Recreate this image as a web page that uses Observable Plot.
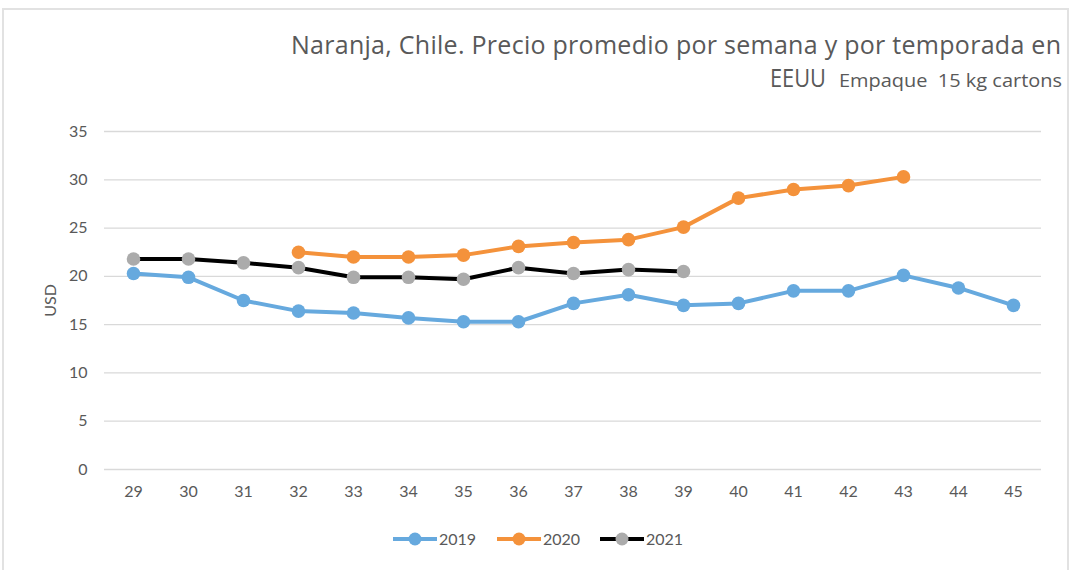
<!DOCTYPE html>
<html>
<head>
<meta charset="utf-8">
<script src="https://cdn.jsdelivr.net/npm/d3@7"></script>
<script src="https://cdn.jsdelivr.net/npm/@observablehq/plot@0.6"></script>
<style>
  body { margin: 0; background: #fff; }
  #wrap { position: relative; width: 1071px; height: 570px; overflow: hidden; background: #fff; }
  #frame { position: absolute; left: 2px; top: 8px; width: 1067px; height: 620px; border: 2px solid #e2e2e2; box-sizing: border-box; }
  #chart, #overlay { position: absolute; left: 0; top: 0; }
</style>
</head>
<body>
<div id="wrap">
  <div id="frame"></div>
  <div id="chart"></div>
  <svg id="overlay" width="1071" height="570"></svg>
</div>
<script>
// ---- data ----
const weeks = [29, 30, 31, 32, 33, 34, 35, 36, 37, 38, 39, 40, 41, 42, 43, 44, 45];
const years = ["2019", "2020", "2021"];
const values2019 = [20.3, 19.9, 17.5, 16.4, 16.2, 15.7, 15.3, 15.3, 17.2, 18.1, 17.0, 17.2, 18.5, 18.5, 20.1, 18.8, 17.0];
const values2020 = [null, null, null, 22.5, 22.0, 22.0, 22.2, 23.1, 23.5, 23.8, 25.1, 28.1, 29.0, 29.4, 30.3, null, null];
const values2021 = [21.8, 21.8, 21.4, 20.9, 19.9, 19.9, 19.7, 20.9, 20.3, 20.7, 20.5, null, null, null, null, null, null];
const yTicks = [0, 5, 10, 15, 20, 25, 30, 35];
const titleLine1 = "Naranja, Chile. Precio promedio por semana y por temporada en";
const titleLine2a = "EEUU";
const titleLine2b = "Empaque\u00a0\u00a015 kg cartons";
const yLabel = "USD";

// ---- styles ----
const lineColors = { "2019": "#66a9de", "2020": "#f4923b", "2021": "#000000" };
const markerColors = { "2019": "#66a9de", "2020": "#f4923b", "2021": "#ababab" };
const textColor = "#595959";
const fontFamily = "Lato, 'Open Sans', sans-serif";
const titleFont = "'Open Sans', Lato, sans-serif";

const seriesValues = { "2019": values2019, "2020": values2020, "2021": values2021 };
const rows = years.flatMap(yr => weeks.map((w, i) => ({ year: yr, week: w, value: seriesValues[yr][i] })))
  .filter(d => d.value != null);

const marks = [Plot.ruleY(yTicks, { stroke: "#d9d9d9", strokeWidth: 1.3 })];
for (const yr of years) {
  const sub = rows.filter(d => d.year === yr);
  marks.push(Plot.line(sub, { x: "week", y: "value", stroke: lineColors[yr], strokeWidth: 4, strokeLinejoin: "round" }));
  marks.push(Plot.dot(sub, { x: "week", y: "value", r: 6.8, fill: markerColors[yr], stroke: "none" }));
}

const plot = Plot.plot({
  width: 1071,
  height: 570,
  marginLeft: 104,
  marginRight: 30,
  marginTop: 131,
  marginBottom: 101,
  style: { fontFamily, fontSize: "16px", color: textColor, background: "transparent", overflow: "visible" },
  x: { type: "point", domain: weeks, padding: 0.5, label: null, tickSize: 0, tickPadding: 16 },
  y: { domain: [0, 35], ticks: yTicks, tickSize: 0, tickPadding: 17, label: yLabel, labelAnchor: "center", labelArrow: "none", labelOffset: 60 },
  marks
});
document.getElementById("chart").appendChild(plot);

// ---- overlay: title & legend ----
const svg = d3.select("#overlay");
svg.append("text").attr("x", 291).attr("y", 54)
  .attr("textLength", 770).attr("lengthAdjust", "spacing")
  .attr("fill", textColor).attr("font-family", titleFont).attr("font-size", 25).text(titleLine1);
svg.append("text").attr("x", 770).attr("y", 87)
  .attr("textLength", 56).attr("lengthAdjust", "spacingAndGlyphs")
  .attr("fill", textColor).attr("font-family", titleFont).attr("font-size", 25).text(titleLine2a);
svg.append("text").attr("x", 839).attr("y", 87)
  .attr("textLength", 223).attr("lengthAdjust", "spacingAndGlyphs")
  .attr("fill", textColor).attr("font-family", titleFont).attr("font-size", 19).text(titleLine2b);

const legendX = [393, 497, 600];
years.forEach((yr, i) => {
  const x0 = legendX[i];
  const g = svg.append("g");
  g.append("line").attr("x1", x0).attr("x2", x0 + 44).attr("y1", 539).attr("y2", 539)
    .attr("stroke", lineColors[yr]).attr("stroke-width", 4);
  g.append("circle").attr("cx", x0 + 22).attr("cy", 539).attr("r", 6.5).attr("fill", markerColors[yr]);
  g.append("text").attr("x", x0 + 46).attr("y", 545).attr("fill", textColor)
    .attr("font-family", fontFamily).attr("font-size", 16).text(yr);
});
</script>
</body>
</html>
